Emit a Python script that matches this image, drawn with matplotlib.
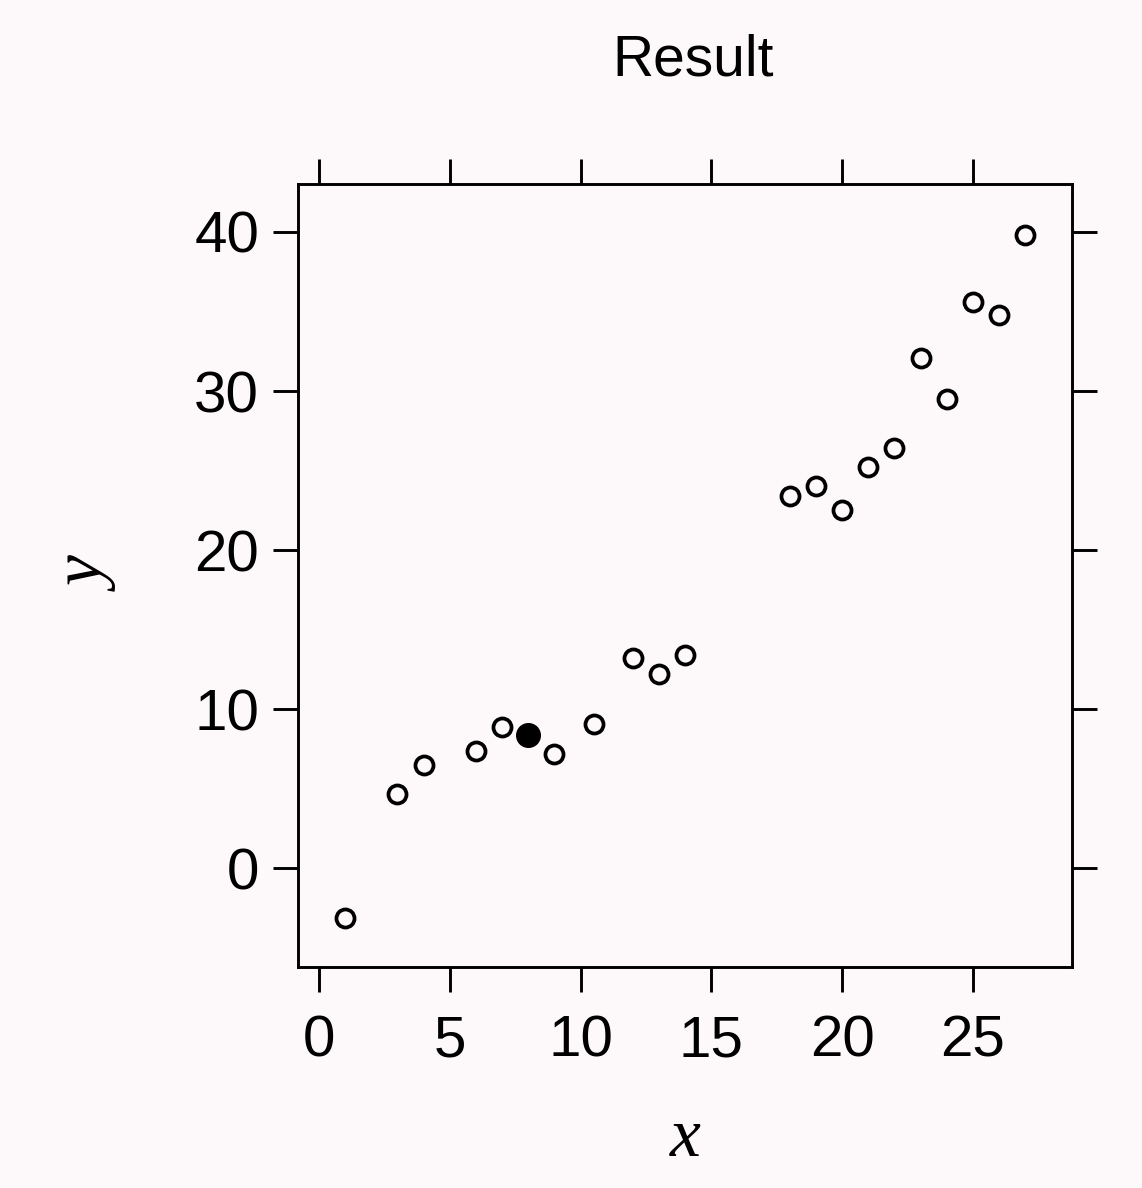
import matplotlib.pyplot as plt

# data
x_open = [1, 3, 4, 6, 7, 9, 10.5, 12, 13, 14, 18, 19, 20, 21, 22, 23, 24, 25, 26, 27]
y_open = [-3.1, 4.7, 6.5, 7.4, 8.9, 7.2, 9.1, 13.2, 12.2, 13.4,
          23.4, 24.0, 22.5, 25.2, 26.4, 32.1, 29.5, 35.6, 34.8, 39.8]
x_filled = [8]
y_filled = [8.4]

x_ticks = [0, 5, 10, 15, 20, 25]
y_ticks = [0, 10, 20, 30, 40]

bg = '#fdf9fa'
fig = plt.figure(figsize=(11.42, 11.88), dpi=100, facecolor=bg)
ax = fig.add_axes([0.261, 0.186, 0.678, 0.659], facecolor=bg)

ax.plot(x_open, y_open, 'o', ms=13, mfc='none', mec='black', mew=2.7)
ax.plot(x_filled, y_filled, 'o', ms=17, mfc='black', mec='black')

ax.set_xlim(-0.8, 28.8)
ax.set_ylim(-6.2, 43)
ax.set_xticks(x_ticks)
ax.set_yticks(y_ticks)

for s in ax.spines.values():
    s.set_linewidth(2.1)
ax.tick_params(direction='out', length=18, width=2.1, labelsize=42,
               top=True, right=True, labeltop=False, labelright=False)
ax.tick_params(axis='x', pad=16)
ax.tick_params(axis='y', pad=10)
for lab in ax.get_xticklabels() + ax.get_yticklabels():
    lab.set_family('Liberation Sans')

ax.set_xlabel('x', fontsize=50, family='Liberation Serif', style='italic', labelpad=28)
ax.set_ylabel('y', fontsize=50, family='Liberation Serif', style='italic', labelpad=52)
fig.text(0.607, 0.949, 'Result', ha='center', va='center', fontsize=41,
         family='Liberation Sans')

fig.savefig('out.png', dpi=100, facecolor=bg)
